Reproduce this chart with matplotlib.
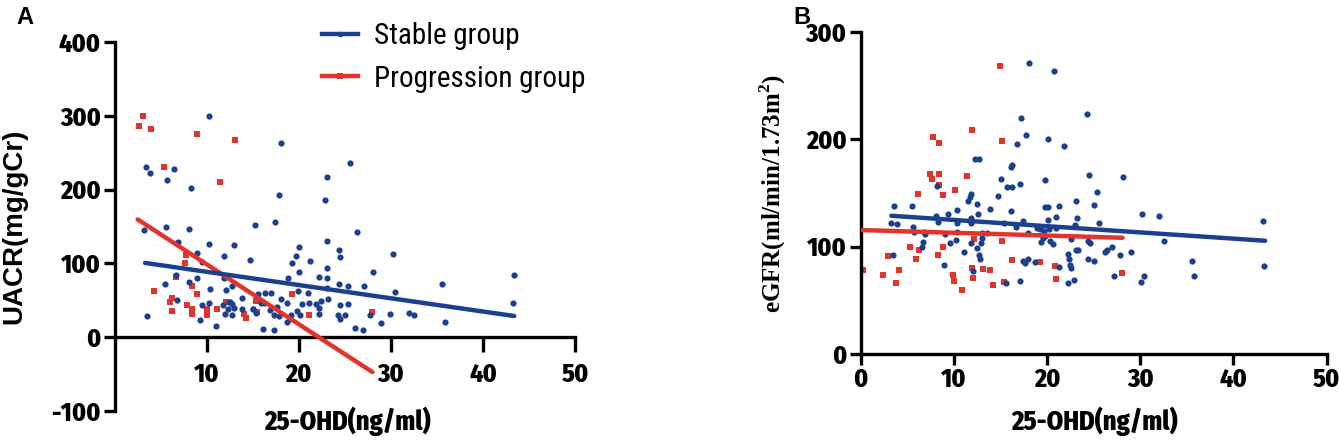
import matplotlib
matplotlib.use("Agg")
import matplotlib.pyplot as plt
from matplotlib.lines import Line2D

# ---------------- data: panel A (UACR) ----------------
a_stable_x = [3.4, 3.8, 6.5, 5.65, 8.3, 10.3, 3.2, 5.6, 8.1, 6.9, 10.25, 13.0, 15.3, 8.9, 9.5,
              11.85, 14.7, 6.67, 8.98, 8.08, 5.47, 11.85, 12.8, 10.4, 12.06, 6.8, 13.8, 9.5, 10.3,
              12.5, 11.8, 12.3, 12.75, 13.0, 11.95, 12.7, 12.4, 13.8, 15.0, 3.5, 9.3, 11.0,
              18.07, 25.56, 23.06, 17.85, 22.9, 17.45, 26.3, 20.05, 23.1, 24.4, 24.5, 19.73, 19.3,
              21.25, 20.05, 23.06, 18.8, 22.16, 23.06, 28.05, 24.4, 25.3, 27.1, 19.95, 21.0, 23.1,
              15.6, 16.3, 17.0, 18.07, 15.9, 16.2, 18.75, 20.4, 21.1, 21.9, 22.4, 23.2, 24.5, 25.3,
              15.06, 15.4, 16.9, 17.6, 17.3, 17.9, 19.8, 20.1, 19.2, 18.7, 19.0, 22.2, 22.2, 24.3,
              25.0, 24.5, 27.7, 28.9, 16.1, 17.3, 26.1, 27.0, 29.9,
              30.26, 30.4, 32.0, 32.5, 35.6, 35.9, 43.4, 43.3]
a_stable_y = [230.7, 223, 227.5, 212.5, 202, 299, 144.7, 148.8, 147, 128.7, 126, 124.2, 151.5, 113.3, 102.4,
              110, 104.7, 84.2, 79.6, 75, 72.4, 79.6, 69.2, 65.1, 63.2, 50, 52.3, 44.1, 45.5,
              47.8, 42.8, 38.6, 44.6, 38.7, 31.8, 29.6, 47.8, 38.6, 38.6, 29.1, 22.8, 15,
              263, 236, 217, 193, 186, 155.6, 142.4, 122, 129.7, 118.3, 108.3, 109.2, 100,
              103.3, 87.8, 93.3, 79.6, 81, 80.5, 87.8, 71.4, 69.2, 69.2, 62.4, 59.1, 66,
              58.7, 60, 60, 51.5, 45.5, 45.5, 45.5, 45, 46, 44.6, 49.5, 51.5, 43.3, 44.6,
              38.6, 33.2, 36.4, 41, 30, 28, 35, 29.6, 29.6, 20.5, 25, 31.8, 39.6, 29.6,
              30.4, 24.2, 29.6, 19.6, 10.5, 9, 12.3, 9, 31.8,
              112.9, 60.5, 33.2, 30.4, 71.4, 20.5, 84.6, 45.5]

a_prog_x = [3.05, 2.6, 3.95, 8.95, 13.1, 5.36, 11.5, 7.75, 7.64, 6.67, 4.3, 8.37, 8.95, 6.2, 6.0,
            7.9, 8.4, 6.2, 8.4, 10.07, 10.0, 11.1, 12.1, 14.0, 14.3, 15.4, 15.5, 19.3, 21.1, 28.0]
a_prog_y = [299, 286, 282, 275, 267.6, 230.7, 209.8, 110.6, 100.6, 81.9, 62.8, 69.2, 57.7, 52.3, 47.8,
            43.3, 38.6, 35, 31.8, 37.8, 29.6, 38.6, 47.8, 31.8, 26, 48.7, 34, 59, 29.6, 34]

# fitted lines (end points)
a_stable_fit_x = [3.3, 43.4]
a_stable_fit_y = [100.5, 28.5]
a_prog_fit_x = [2.5, 28.0]
a_prog_fit_y = [159.5, -47.5]

# ---------------- data: panel B (eGFR) ----------------
b_stable_x = [3.55, 3.3, 3.9, 3.45, 5.55, 5.6, 5.7, 6.85, 6.9, 6.7, 6.55, 8.2, 8.1, 8.3, 9.35, 9.06,
              10.3, 10.3, 10.4, 9.6, 10.2, 9.0, 11.1, 11.7, 11.9, 11.55, 11.85, 11.85, 12.3, 12.7,
              12.5, 12.55, 11.8, 12.45, 13.0, 13.0, 12.9, 12.7, 12.8, 12.1, 13.6, 13.85, 14.7,
              15.06, 15.7, 16.1, 16.3, 16.3, 15.4, 16.1, 15.6, 16.8,
              18.1, 20.8, 24.3, 17.2, 17.7, 20.1, 21.8, 17.1, 19.8, 24.5, 28.1, 25.35, 23.1, 25.0,
              19.8, 20.1, 21.3, 21.0, 23.2, 20.1, 17.45, 25.6, 23.0, 16.7, 18.9, 19.3, 19.7, 20.2,
              21.0, 18.0, 19.8, 19.6, 19.4, 20.3, 20.6, 22.6, 24.45, 24.6, 23.1, 23.3, 22.3, 22.4,
              22.5, 22.6, 21.3, 26.2, 26.4, 27.0, 27.8, 29.0, 24.45, 25.0, 17.45, 18.0, 18.7, 17.6,
              17.1, 22.3, 22.9, 27.2, 30.2, 32.0, 32.6, 30.1, 30.4, 35.5, 35.75, 43.2, 43.3]
b_stable_y = [138, 122.3, 121.3, 92.2, 138, 118.5, 113.9, 113.9, 111.4, 104.6, 99.9, 156.4, 128.8, 122.6, 130, 111.4,
              134, 121.6, 113.9, 103, 106, 82.9, 94.7, 146.5, 148.7, 142.7, 126.9, 122.3, 182, 182,
              139.7, 130.4, 103, 98.4, 113, 107.7, 103, 92.2, 88.2, 77.3, 113, 134.7, 147.4,
              162.6, 155.2, 174.4, 176, 155.2, 122.3, 133.4, 65.8, 195.8,
              271.2, 263.8, 224, 220, 203.6, 199.9, 193.4, 158.3, 162, 166.7, 164.5, 151.1, 142.2, 138.7,
              137.2, 136.6, 137.8, 127.8, 126.9, 124.8, 124.1, 122.3, 120.1, 118.5, 117, 116, 115, 116,
              117, 112.4, 110.2, 108, 104.6, 105.2, 102.4, 106.8, 105.5, 103, 96.8, 96.8, 93.1, 88.2,
              82.9, 79.8, 81.3, 95.3, 96.8, 99.9, 92.2, 95.3, 88.5, 86.9, 86.6, 88.2, 85.9, 84.4,
              68.3, 65.8, 68.9, 72.9, 130, 128.8, 105.5, 66.8, 72.9, 86.9, 72.3, 123.5, 81.7]

b_prog_x = [0.24, 2.4, 2.9, 3.8, 4.1, 5.3, 6.0, 6.2, 6.3, 7.5, 7.7, 7.8, 8.4, 8.4, 8.35, 8.8, 8.9,
            8.45, 9.9, 10.0, 10.1, 10.9, 11.45, 12.0, 12.0, 12.1, 12.2, 13.1, 13.9, 14.2, 15.0, 15.2,
            15.2, 15.4, 16.3, 19.3, 20.9, 20.95, 28.0]
b_prog_y = [78.5, 73.2, 91.1, 66, 78.5, 99.6, 88.6, 149.2, 96.5, 168, 163.4, 202, 196.4, 168, 92.7, 100, 148.6,
            157, 73.8, 68.2, 152.4, 59.7, 165.9, 209, 80, 70.7, 107.4, 79.2, 78.5, 64.4, 268.6, 198.2,
            105.2, 66.9, 87.6, 85.4, 82.3, 69.7, 75.4]

b_stable_fit_x = [3.3, 43.4]
b_stable_fit_y = [128.8, 105.5]
b_prog_fit_x = [0.0, 28.1]
b_prog_fit_y = [115.5, 108.3]

a_xticks = [10, 20, 30, 40, 50]
a_yticks = [-100, 0, 100, 200, 300, 400]
b_xticks = [0, 10, 20, 30, 40, 50]
b_yticks = [0, 100, 200, 300]

legend_labels = ["Stable group", "Progression group"]

# ---------------- style ----------------
BLUE = "#1D408E"
RED = "#E3342C"
NARROW_BOLD = ["Fira Sans Condensed", "DejaVu Sans"]
NARROW = ["Roboto Condensed", "DejaVu Sans"]
SANS = ["Liberation Sans", "DejaVu Sans"]
SERIF = ["Liberation Serif", "DejaVu Serif"]
TICKFONT = dict(family=NARROW_BOLD, weight=800, size=18.5)

W, H = 1339, 442
fig = plt.figure(figsize=(W / 100, H / 100), dpi=100)


def px_rect(x0, y0, x1, y1):
    return [x0 / W, 1 - y1 / H, (x1 - x0) / W, (y1 - y0) / H]


def style_axes(ax, xt, yt):
    for s in ["top", "right"]:
        ax.spines[s].set_visible(False)
    for s in ["left", "bottom"]:
        ax.spines[s].set_linewidth(2.4)
    ax.tick_params(axis="both", direction="out", length=8, width=2.4, pad=2)
    ax.set_xticks(xt)
    ax.set_yticks(yt)
    ax.set_xticklabels([str(v) for v in xt], fontdict=TICKFONT)
    ax.set_yticklabels([str(v) for v in yt], fontdict=TICKFONT)


# ---------------- Panel A ----------------
axA = fig.add_axes(px_rect(114.6, 42, 575, 410.8))
axA.scatter(a_prog_x, a_prog_y, marker="s", s=24, color=RED, linewidths=0, zorder=2)
axA.scatter(a_stable_x, a_stable_y, marker="o", s=20, color=BLUE, linewidths=0, zorder=3)
axA.plot(a_prog_fit_x, a_prog_fit_y, color=RED, lw=3.2, solid_capstyle="round", zorder=4)
axA.plot(a_stable_fit_x, a_stable_fit_y, color=BLUE, lw=3.2, solid_capstyle="round", zorder=5)
axA.set_xlim(0, 50)
axA.set_ylim(-100, 400)
axA.spines["bottom"].set_position(("data", 0))
style_axes(axA, a_xticks, a_yticks)
axA.tick_params(axis="x", length=11, pad=7)

handles = [Line2D([], [], color=BLUE, lw=3.2, marker="o", markersize=4, markeredgewidth=0),
           Line2D([], [], color=RED, lw=3.2, marker="s", markersize=4, markeredgewidth=0)]
leg = fig.legend(handles, legend_labels, loc="upper left",
                 bbox_to_anchor=(321.7 / W, 1 - 22 / H), frameon=False,
                 prop={"family": NARROW, "size": 21}, handlelength=1.25,
                 handletextpad=0.55, labelspacing=0.5, borderpad=0, borderaxespad=0)

fig.text(14 / W, 1 - 226 / H, "UACR(mg/gCr)", rotation=90, ha="center", va="center",
         fontsize=20, fontweight="bold", family=SANS)
fig.text(347.5 / W, 1 - 421 / H, "25-OHD(ng/ml)", ha="center", va="center",
         fontsize=19, fontweight=800, family=NARROW_BOLD)
fig.text(25 / W, 1 - 18 / H, "A", ha="center", va="center", fontsize=17,
         fontweight="bold", family=SANS)

# ---------------- Panel B ----------------
axB = fig.add_axes(px_rect(860.5, 32, 1326.7, 354))
axB.scatter(b_prog_x, b_prog_y, marker="s", s=20, color=RED, linewidths=0, zorder=2)
axB.scatter(b_stable_x, b_stable_y, marker="o", s=20, color=BLUE, linewidths=0, zorder=3)
axB.plot(b_prog_fit_x, b_prog_fit_y, color=RED, lw=3.2, solid_capstyle="round", zorder=4)
axB.plot(b_stable_fit_x, b_stable_fit_y, color=BLUE, lw=3.2, solid_capstyle="round", zorder=5)
axB.set_xlim(0, 50)
axB.set_ylim(0, 300)
style_axes(axB, b_xticks, b_yticks)

fig.text(773 / W, 1 - 193 / H, "eGFR(ml/min/1.73m$^{\\mathregular{2}}$)", rotation=90,
         ha="center", va="center", fontsize=18, fontweight="bold", family=SERIF)
fig.text(1095 / W, 1 - 421 / H, "25-OHD(ng/ml)", ha="center", va="center",
         fontsize=19, fontweight=800, family=NARROW_BOLD)
fig.text(802 / W, 1 - 18 / H, "B", ha="center", va="center", fontsize=17,
         fontweight="bold", family=SANS)

fig.savefig("out.png", dpi=100)
